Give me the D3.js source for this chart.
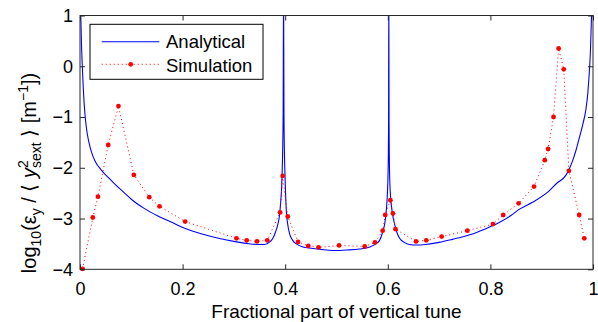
<!DOCTYPE html>
<html>
<head>
<meta charset="utf-8">
<script src="https://cdn.jsdelivr.net/npm/d3@7"></script>
<style>
  body { margin: 0; background: #fff; }
  svg { display: block; font-family: "Liberation Sans", Arial, Helvetica, sans-serif; }
</style>
</head>
<body>
<svg id="chart" width="598" height="322"></svg>
<script>
// analytical curve, poles run off the top
var anaX = [0.0005, 0.0015, 0.003, 0.0045, 0.0065, 0.0097, 0.013, 0.017, 0.0227, 0.03,
  0.042, 0.055, 0.068, 0.085, 0.1, 0.125, 0.152, 0.18, 0.204, 0.24,
  0.27, 0.3, 0.325, 0.345, 0.36, 0.37, 0.376, 0.381, 0.386, 0.389,
  0.391, 0.393, 0.394, 0.395, 0.396, 0.3968, 0.3976, 0.3985, 0.3995, 0.4005,
  0.4022, 0.405, 0.4086, 0.414, 0.4216, 0.435, 0.447, 0.47, 0.493, 0.52,
  0.545, 0.565, 0.578, 0.584, 0.589, 0.594, 0.597, 0.599, 0.6, 0.601,
  0.6015, 0.602, 0.6025, 0.603, 0.604, 0.606, 0.609, 0.613, 0.618, 0.623,
  0.632, 0.642, 0.655, 0.674, 0.7, 0.726, 0.76, 0.791, 0.817, 0.84,
  0.856, 0.882, 0.914, 0.93, 0.947, 0.953, 0.96, 0.967, 0.973, 0.98,
  0.986, 0.99, 0.992, 0.995, 0.997, 0.999];
var anaY = [1.5, 1.0, 0.4, 0.0, -0.45, -0.95, -1.25, -1.48, -1.7, -1.88,
  -2.05, -2.19, -2.32, -2.48, -2.62, -2.8, -2.95, -3.08, -3.19, -3.31,
  -3.39, -3.45, -3.49, -3.51, -3.51, -3.46, -3.39, -3.27, -3.1, -2.93,
  -2.7, -2.4, -2.1, -1.7, -0.9, 1.5, -0.9, -1.7, -2.1, -2.45,
  -2.85, -3.12, -3.3, -3.42, -3.5, -3.56, -3.58, -3.61, -3.63, -3.62,
  -3.6, -3.56, -3.49, -3.43, -3.3, -3.1, -2.85, -2.55, -2.3, -1.8,
  -1.2, 1.5, -1.2, -1.8, -2.3, -2.64, -2.9, -3.1, -3.28, -3.39,
  -3.47, -3.51, -3.52, -3.51, -3.47, -3.41, -3.32, -3.2, -3.08, -2.94,
  -2.82, -2.68, -2.46, -2.3, -2.15, -2.04, -1.87, -1.65, -1.42, -1.15,
  -0.86, -0.52, -0.24, 0.3, 0.95, 1.5];

// simulation points
var simX = [0.005, 0.025, 0.035, 0.055, 0.075, 0.105, 0.135, 0.155, 0.205, 0.305,
  0.325, 0.345, 0.365, 0.39, 0.395, 0.405, 0.425, 0.445, 0.465, 0.505,
  0.555, 0.575, 0.59, 0.595, 0.605, 0.61, 0.615, 0.655, 0.675, 0.705,
  0.755, 0.805, 0.825, 0.855, 0.885, 0.906, 0.9125, 0.923, 0.933, 0.943,
  0.953, 0.973, 0.983];
var simY = [-3.99, -2.98, -2.57, -1.55, -0.785, -2.14, -2.58, -2.76, -3.06, -3.39,
  -3.43, -3.45, -3.43, -2.88, -2.16, -2.96, -3.46, -3.54, -3.57, -3.53,
  -3.55, -3.47, -3.24, -2.93, -2.64, -2.9, -3.21, -3.45, -3.43, -3.355,
  -3.24, -3.11, -2.93, -2.7, -2.37, -1.85, -1.63, -1.0, 0.35, -0.06,
  -2.06, -2.93, -3.39];

var xTicks = [0, 0.2, 0.4, 0.6, 0.8, 1];
var xTickLabels = ["0", "0.2", "0.4", "0.6", "0.8", "1"];
var yTicks = [-4, -3, -2, -1, 0, 1];
var yTickLabels = ["\u22124", "\u22123", "\u22122", "\u22121", "0", "1"];

var seriesNames = ["Analytical", "Simulation"];

// plot box
var margin = { top: 15.5, right: 5, bottom: 52.7, left: 80 };
var width = 598 - margin.left - margin.right;
var height = 322 - margin.top - margin.bottom;

var x = d3.scaleLinear().domain([0, 1]).range([0, width]);
var y = d3.scaleLinear().domain([-4, 1]).range([height, 0]);

var svg = d3.select("#chart");
var g = svg.append("g")
  .attr("transform", "translate(" + margin.left + "," + margin.top + ")");

g.append("clipPath").attr("id", "clip")
  .append("rect").attr("width", width).attr("height", height);

var anaData = anaX.map(function(d, i) { return [d, anaY[i]]; });
var simData = simX.map(function(d, i) { return [d, simY[i]]; });

var line = d3.line()
  .x(function(d) { return x(d[0]); })
  .y(function(d) { return y(d[1]); });

// analytical line
g.append("path")
  .datum(anaData)
  .attr("clip-path", "url(#clip)")
  .attr("fill", "none")
  .attr("stroke", "#0000ff")
  .attr("stroke-width", 1.1)
  .attr("d", line.curve(d3.curveMonotoneX));

// simulation dotted line + markers
g.append("path")
  .datum(simData)
  .attr("clip-path", "url(#clip)")
  .attr("fill", "none")
  .attr("stroke", "#ff0000")
  .attr("stroke-width", 1)
  .attr("stroke-dasharray", "1,3")
  .attr("d", line.curve(d3.curveLinear));

g.selectAll("circle.sim")
  .data(simData)
  .enter().append("circle")
  .attr("class", "sim")
  .attr("cx", function(d) { return x(d[0]); })
  .attr("cy", function(d) { return y(d[1]); })
  .attr("r", 2.4)
  .attr("fill", "#ff0000");

// axes, ticks point inward on all four sides
function styleAxis(sel) {
  sel.select(".domain").remove();
  sel.selectAll("line").attr("stroke", "#262626");
  sel.selectAll("text").attr("fill", "#000").style("font-size", "18px")
    .style("font-family", "'Liberation Sans', Arial, sans-serif");
}

g.append("g")
  .attr("transform", "translate(0," + height + ")")
  .call(d3.axisBottom(x).tickValues(xTicks)
    .tickFormat(function(d, i) { return xTickLabels[i]; })
    .tickSizeInner(-5).tickSizeOuter(0).tickPadding(13))
  .call(styleAxis);

g.append("g")
  .call(d3.axisTop(x).tickValues(xTicks).tickFormat("")
    .tickSizeInner(-5).tickSizeOuter(0))
  .call(styleAxis);

g.append("g")
  .call(d3.axisLeft(y).tickValues(yTicks)
    .tickFormat(function(d, i) { return yTickLabels[i]; })
    .tickSizeInner(-5).tickSizeOuter(0).tickPadding(7))
  .call(styleAxis);

g.append("g")
  .attr("transform", "translate(" + width + ",0)")
  .call(d3.axisRight(y).tickValues(yTicks).tickFormat("")
    .tickSizeInner(-5).tickSizeOuter(0))
  .call(styleAxis);

// box
g.append("rect")
  .attr("width", width).attr("height", height)
  .attr("fill", "none")
  .attr("stroke", "#262626")
  .attr("stroke-width", 1);

// x label
svg.append("text")
  .attr("x", margin.left + width / 2)
  .attr("y", 318)
  .attr("text-anchor", "middle")
  .style("font-size", "19px")
  .text("Fractional part of vertical tune");

// y label
var yl = svg.append("text")
  .attr("transform", "translate(36,173) rotate(-90)")
  .attr("text-anchor", "middle")
  .style("font-size", "20px");
yl.append("tspan").text("log");
yl.append("tspan").attr("dy", 5).style("font-size", "14px").text("10");
yl.append("tspan").attr("dy", -5).text("(\u03b5");
yl.append("tspan").attr("dy", 5).style("font-size", "14px").text("y");
yl.append("tspan").attr("dy", -5).text(" / \u27e8 ");
yl.append("tspan").style("font-style", "italic").text("y");
yl.append("tspan").attr("dy", -8).style("font-size", "14px").text("2");
yl.append("tspan").attr("dx", -7.8).attr("dy", 13).style("font-size", "14px").text("sext");
yl.append("tspan").attr("dy", -5).text(" \u27e9 [m");
yl.append("tspan").attr("dy", -8).style("font-size", "14px").text("\u22121");
yl.append("tspan").attr("dy", 8).text("])");

// legend
var lg = svg.append("g").attr("transform", "translate(90,24.3)");
lg.append("rect")
  .attr("width", 173).attr("height", 55)
  .attr("fill", "#fff")
  .attr("stroke", "#000")
  .attr("stroke-width", 1);

lg.append("line")
  .attr("x1", 11.7).attr("x2", 69.3)
  .attr("y1", 17.4).attr("y2", 17.4)
  .attr("stroke", "#0000ff").attr("stroke-width", 1.1);
lg.append("line")
  .attr("x1", 11.7).attr("x2", 69.3)
  .attr("y1", 40).attr("y2", 40)
  .attr("stroke", "#ff0000").attr("stroke-width", 1)
  .attr("stroke-dasharray", "1,3");
lg.append("circle")
  .attr("cx", 40.7).attr("cy", 40).attr("r", 2.4)
  .attr("fill", "#ff0000");

lg.selectAll("text.leg")
  .data(seriesNames)
  .enter().append("text")
  .attr("class", "leg")
  .attr("x", 76)
  .attr("y", function(d, i) { return 24 + i * 23.4; })
  .style("font-size", "18.5px")
  .text(function(d) { return d; });
</script>
</body>
</html>
